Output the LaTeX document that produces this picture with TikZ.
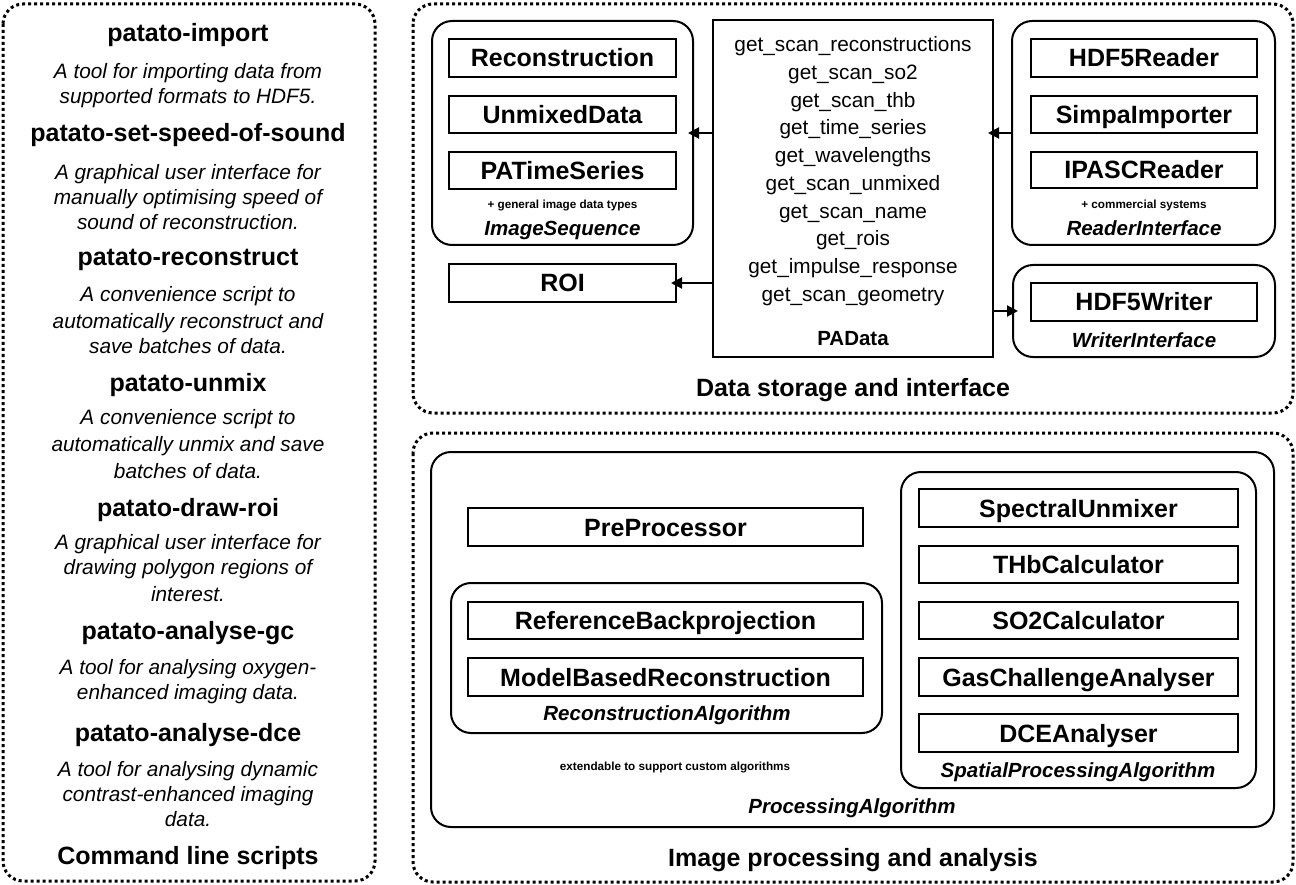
\documentclass[tikz,border=0pt]{standalone}
\usepackage{fontspec}
\setmainfont{Liberation Sans}
\usetikzlibrary{arrows.meta}
\newcommand\fTitle{\fontsize{25pt}{30pt}\selectfont\bfseries}
\newcommand\fDesc{\fontsize{20.8pt}{25pt}\selectfont\itshape}
\newcommand\fMeth{\fontsize{20.8pt}{25pt}\selectfont}
\newcommand\fLab{\fontsize{20.5pt}{25pt}\selectfont\bfseries\itshape}
\newcommand\fBold{\fontsize{20.5pt}{25pt}\selectfont\bfseries}
\newcommand\fSmall{\fontsize{11.7pt}{14pt}\selectfont\bfseries}
\tikzset{
  panel/.style={draw, line width=3pt, dash pattern=on 3pt off 3pt, rounded corners=20pt},
  grp/.style={draw, line width=2pt, rounded corners=20pt, inner sep=0pt},
  cls/.style={draw, line width=2pt, inner sep=0pt, font=\fTitle, text height=18pt, text depth=0pt},
  tx/.style={inner sep=0pt, anchor=base},
  arr/.style={line width=2pt, shorten >=-6pt, -{Triangle[length=11pt,width=11pt]}}
}
\begin{document}
\begin{tikzpicture}[x=1pt,y=-1pt]
\useasboundingbox (0,0) rectangle (1296,885);
% panels
\draw[panel] (3,4) rectangle (375,881);
\draw[panel] (413,4) rectangle (1293,413);
\draw[panel] (413,433) rectangle (1293,882);

% left panel texts
\node[tx,font=\fTitle] (t1) at (188,42) {patato-import};
\node[tx,font=\fDesc] (d1a) at (188,78.5) {A tool for importing data from};
\node[tx,font=\fDesc] (d1b) at (188,103.5) {supported formats to HDF5.};
\node[tx,font=\fTitle] (t2) at (188,142) {patato-set-speed-of-sound};
\node[tx,font=\fDesc] (d2a) at (188,179.5) {A graphical user interface for};
\node[tx,font=\fDesc] (d2b) at (188,204.5) {manually optimising speed of};
\node[tx,font=\fDesc] (d2c) at (188,229.5) {sound of reconstruction.};
\node[tx,font=\fTitle] (t3) at (188,266) {patato-reconstruct};
\node[tx,font=\fDesc] (d3a) at (188,301.5) {A convenience script to};
\node[tx,font=\fDesc] (d3b) at (188,328.5) {automatically reconstruct and};
\node[tx,font=\fDesc] (d3c) at (188,353.5) {save batches of data.};
\node[tx,font=\fTitle] (t4) at (188,391) {patato-unmix};
\node[tx,font=\fDesc] (d4a) at (188,424.5) {A convenience script to};
\node[tx,font=\fDesc] (d4b) at (188,451.5) {automatically unmix and save};
\node[tx,font=\fDesc] (d4c) at (188,478.5) {batches of data.};
\node[tx,font=\fTitle] (t5) at (188,516) {patato-draw-roi};
\node[tx,font=\fDesc] (d5a) at (188,549.5) {A graphical user interface for};
\node[tx,font=\fDesc] (d5b) at (188,574.5) {drawing polygon regions of};
\node[tx,font=\fDesc] (d5c) at (188,601.5) {interest.};
\node[tx,font=\fTitle] (t6) at (188,639) {patato-analyse-gc};
\node[tx,font=\fDesc] (d6a) at (188,674.5) {A tool for analysing oxygen-};
\node[tx,font=\fDesc] (d6b) at (188,699.5) {enhanced imaging data.};
\node[tx,font=\fTitle] (t7) at (188,741) {patato-analyse-dce};
\node[tx,font=\fDesc] (d7a) at (188,776.5) {A tool for analysing dynamic};
\node[tx,font=\fDesc] (d7b) at (188,801.5) {contrast-enhanced imaging};
\node[tx,font=\fDesc] (d7c) at (188,826.5) {data.};
\node[tx,font=\fTitle] (cls) at (188,864) {Command line scripts};

% ImageSequence group
\node[grp, minimum width=261pt, minimum height=224pt] (imgseq) at (562.5,133) {};
\node[cls, minimum width=227pt, minimum height=38pt] (rec) at (562.5,58) {Reconstruction};
\node[cls, minimum width=227pt, minimum height=37pt] (unm) at (562.5,114.5) {UnmixedData};
\node[cls, minimum width=227pt, minimum height=37pt] (pats) at (562.5,170.5) {PATimeSeries};
\node[tx,font=\fSmall] (gen) at (562.5,208.2) {+ general image data types};
\node[tx,font=\fLab] (imgseqlab) at (562.5,235.3) {ImageSequence};
\node[cls, minimum width=227pt, minimum height=38pt] (roi) at (562.5,283) {ROI};

% PAData
\node[draw, line width=2pt, minimum width=280pt, minimum height=337pt, inner sep=0pt] (padata) at (853,188.5) {};
\node[tx,font=\fMeth] (m1) at (853,51.5) {get\_scan\_reconstructions};
\node[tx,font=\fMeth] (m2) at (853,79.5) {get\_scan\_so2};
\node[tx,font=\fMeth] (m3) at (853,107.5) {get\_scan\_thb};
\node[tx,font=\fMeth] (m4) at (853,134.5) {get\_time\_series};
\node[tx,font=\fMeth] (m5) at (853,162.5) {get\_wavelengths};
\node[tx,font=\fMeth] (m6) at (853,190.5) {get\_scan\_unmixed};
\node[tx,font=\fMeth] (m7) at (853,218.5) {get\_scan\_name};
\node[tx,font=\fMeth] (m8) at (853,245.5) {get\_rois};
\node[tx,font=\fMeth] (m9) at (853,273.5) {get\_impulse\_response};
\node[tx,font=\fMeth] (m10) at (853,301.5) {get\_scan\_geometry};
\node[tx,font=\fBold] (padatalab) at (853,345.3) {PAData};

% Reader group
\node[grp, minimum width=263pt, minimum height=224pt] (reader) at (1143.5,133) {};
\node[cls, minimum width=226pt, minimum height=38pt] (h5r) at (1144,58) {HDF5Reader};
\node[cls, minimum width=226pt, minimum height=37pt] (simpa) at (1144,114.5) {SimpaImporter};
\node[cls, minimum width=226pt, minimum height=36pt] (ipasc) at (1144,170) {IPASCReader};
\node[tx,font=\fSmall] (comm) at (1144,208.2) {+ commercial systems};
\node[tx,font=\fLab] (readerlab) at (1144,235.3) {ReaderInterface};

% Writer group
\node[grp, minimum width=262pt, minimum height=92pt] (writer) at (1144,311) {};
\node[cls, minimum width=226pt, minimum height=38pt] (h5w) at (1144,302) {HDF5Writer};
\node[tx,font=\fLab] (writerlab) at (1144,347.3) {WriterInterface};

\node[tx,font=\fTitle] (dsi) at (853,396) {Data storage and interface};

% arrows
\coordinate (ya) at (0,133);
\coordinate (yr) at (0,283);
\coordinate (yw) at (0,311);
\draw[arr] (padata.west |- ya) -- (imgseq.east |- ya);
\draw[arr] (padata.west |- yr) -- (roi.east);
\draw[arr] (reader.west |- ya) -- (padata.east |- ya);
\draw[arr] (padata.east |- yw) -- (writer.west);

% bottom panel
\node[grp, minimum width=843pt, minimum height=375pt] (proc) at (852.5,639.5) {};
\node[cls, minimum width=395pt, minimum height=38pt] (pre) at (665.5,527) {PreProcessor};
\node[grp, minimum width=431pt, minimum height=150pt] (recalg) at (666.5,658) {};
\node[cls, minimum width=395pt, minimum height=37pt] (refbp) at (665.5,620.5) {ReferenceBackprojection};
\node[cls, minimum width=395pt, minimum height=38pt] (mbr) at (665.5,677) {ModelBasedReconstruction};
\node[tx,font=\fLab] (recalglab) at (667,720.3) {ReconstructionAlgorithm};
\node[tx,font=\fSmall] (ext) at (675,770.2) {extendable to support custom algorithms};

\node[grp, minimum width=355pt, minimum height=316pt] (spatial) at (1078.5,630) {};
\node[cls, minimum width=319pt, minimum height=38pt] (spec) at (1078.5,508) {SpectralUnmixer};
\node[cls, minimum width=319pt, minimum height=37pt] (thb) at (1078.5,564.5) {THbCalculator};
\node[cls, minimum width=319pt, minimum height=37pt] (so2) at (1078.5,620.5) {SO2Calculator};
\node[cls, minimum width=319pt, minimum height=38pt] (gas) at (1078.5,677) {GasChallengeAnalyser};
\node[cls, minimum width=319pt, minimum height=38pt] (dce) at (1078.5,733) {DCEAnalyser};
\node[tx,font=\fLab] (spatiallab) at (1078,777.3) {SpatialProcessingAlgorithm};
\node[tx,font=\fLab] (proclab) at (852,813.3) {ProcessingAlgorithm};

\node[tx,font=\fTitle] (ipa) at (853,866) {Image processing and analysis};
\end{tikzpicture}
\end{document}
